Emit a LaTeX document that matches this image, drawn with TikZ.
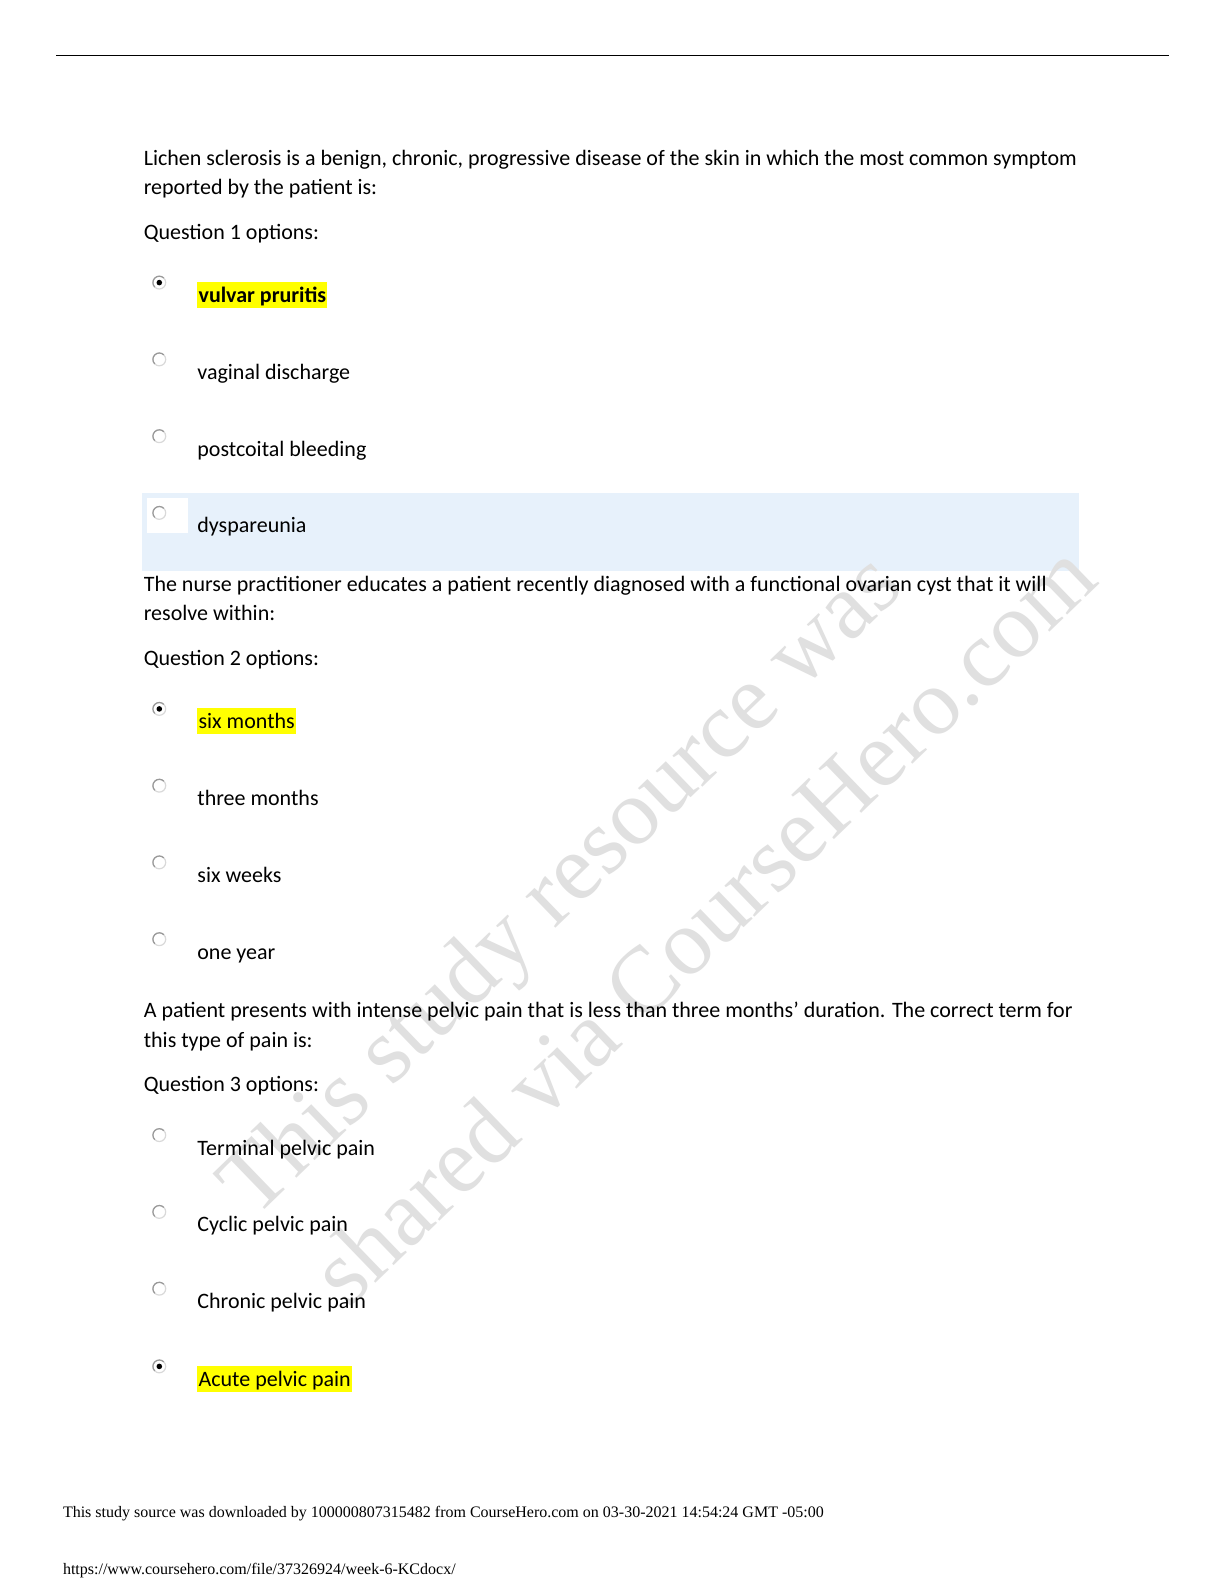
\documentclass[tikz,border=0pt]{standalone}
\usepackage{fontspec}
\setmainfont{Carlito}
\newfontfamily\wmserif{Liberation Serif}
\definecolor{bandblue}{RGB}{231,241,251}
\definecolor{hlyellow}{RGB}{255,255,0}
\definecolor{wmgray}{RGB}{224,224,224}
\newcommand\radiobtn[2]{%
  \draw[gray!30, line width=0.6pt] (159.3,#1) circle[radius=3.2pt];
  \draw[gray!80, line width=0.6pt] (159.3,#1) ++(45:3.2pt) arc[start angle=45, end angle=225, radius=3.2pt];
  \ifnum#2=1 \fill[black] (159.3,#1) circle[radius=1.4pt];\fi
}
\begin{document}
\begin{tikzpicture}[x=0.5pt,y=-0.5pt,
  body/.style={anchor=base west, inner sep=0pt, font=\fontsize{11}{13.4}\selectfont},
  hlt/.style={body, fill=hlyellow, text height=10.4pt, text depth=2.8pt, inner xsep=0.6pt},
  wmark/.style={anchor=base west, inner sep=0pt, rotate=44, text=wmgray, font=\wmserif\fontsize{47}{50}\selectfont},
  foot/.style={anchor=base west, inner sep=0pt, font=\wmserif\fontsize{8}{9}\selectfont},
]
\useasboundingbox[fill=white] (0,0) rectangle (1224,1584);
% top rule
\draw[line width=0.5pt] (56,56) -- (1168.5,56);
% highlighted band of option 4
\fill[bandblue] (142.4,493) rectangle (1078.8,570.5);
\fill[white] (147,497.5) rectangle (188,533);
% watermark
\node[wmark] (wm1) at (254,1220) {This study resource was};
\node[wmark] (wm2) at (348,1310) {shared via CourseHero.com};
% Question 1
\node[body] (q1a) at (143.4,165.2) {Lichen sclerosis is a benign, chronic, progressive disease of the skin in which the most common symptom};
\node[body] (q1b) at (143.4,194.5) {reported by the patient is:};
\node[body] (q1o) at (143.4,239.9) {Question 1 options:};
\node[hlt, font=\fontsize{11}{13.4}\selectfont\bfseries] (q1r1) at (197,302.4) {vulvar pruritis};
\node[body] (q1r2) at (197,379.2) {vaginal discharge};
\node[body] (q1r3) at (197,456) {postcoital bleeding};
\node[body] (q1r4) at (197,532.7) {dyspareunia};
\radiobtn{282.6}{1}
\radiobtn{359.4}{0}
\radiobtn{436.2}{0}
\radiobtn{512.9}{0}
% Question 2
\node[body] (q2a) at (143.4,591.5) {The nurse practitioner educates a patient recently diagnosed with a functional ovarian cyst that it will};
\node[body] (q2b) at (143.4,620.7) {resolve within:};
\node[body] (q2o) at (143.4,665.2) {Question 2 options:};
\node[hlt] (q2r1) at (197,728.7) {six months};
\node[body] (q2r2) at (197,805.5) {three months};
\node[body] (q2r3) at (197,882.2) {six weeks};
\node[body] (q2r4) at (197,959) {one year};
\radiobtn{708.9}{1}
\radiobtn{785.7}{0}
\radiobtn{862.4}{0}
\radiobtn{939.2}{0}
% Question 3
\node[body] (q3a) at (143.4,1017.7) {A patient presents with intense pelvic pain that is less than three months’ duration. The correct term for};
\node[body] (q3b) at (143.4,1047) {this type of pain is:};
\node[body] (q3o) at (143.4,1091.9) {Question 3 options:};
\node[body] (q3r1) at (197,1155) {Terminal pelvic pain};
\node[body] (q3r2) at (197,1231.7) {Cyclic pelvic pain};
\node[body] (q3r3) at (197,1308.5) {Chronic pelvic pain};
\node[hlt] (q3r4) at (197,1386.3) {Acute pelvic pain};
\radiobtn{1135.1}{0}
\radiobtn{1211.9}{0}
\radiobtn{1288.7}{0}
\radiobtn{1366.4}{1}
% footer
\node[foot] (f1) at (62.6,1517) {This study source was downloaded by 100000807315482 from CourseHero.com on 03-30-2021 14:54:24 GMT -05:00};
\node[foot] (f2) at (62.6,1574) {https://www.coursehero.com/file/37326924/week-6-KCdocx/};
\end{tikzpicture}
\end{document}
